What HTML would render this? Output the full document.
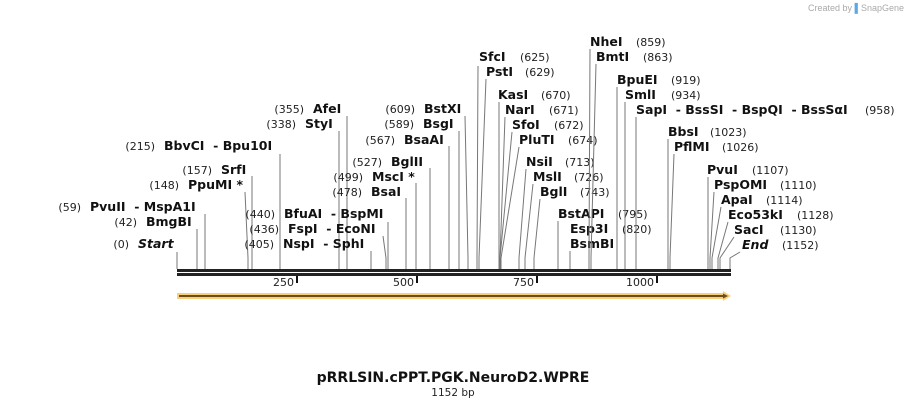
<!DOCTYPE html>
<html><head><meta charset="utf-8"><style>
html,body{margin:0;padding:0;background:#fff;width:908px;height:408px;overflow:hidden}
svg{display:block}
.n{font-family:"DejaVu Sans",Verdana,sans-serif;font-weight:bold;font-size:12.5px;fill:#111;white-space:pre}
.p{font-family:"DejaVu Sans",Verdana,sans-serif;font-size:11px;fill:#222}
line{stroke:#777;stroke-width:1}
</style></head><body>
<svg width="908" height="408" xmlns="http://www.w3.org/2000/svg" xml:space="preserve">
<text x="904" y="11" text-anchor="end" style="font-family:'Liberation Sans',sans-serif;font-size:9px;fill:#aaa">Created by <tspan fill="#5aa9e6">▌</tspan>SnapGene</text>
<g>
<line x1="177" y1="252" x2="177" y2="269"/><text class="p" x="129" y="248" text-anchor="end">(0)</text><text class="n" x="138" y="248" font-style="italic">Start</text>
<line x1="197" y1="229" x2="197" y2="269"/><text class="p" x="137" y="226" text-anchor="end">(42)</text><text class="n" x="146" y="226">BmgBI</text>
<line x1="205" y1="214" x2="205" y2="269"/><text class="p" x="81" y="211" text-anchor="end">(59)</text><text class="n" x="90" y="211">PvuII  - MspA1I</text>
<polyline points="245,192 248,258 248,269" fill="none" stroke="#777"/><text class="p" x="179" y="189" text-anchor="end">(148)</text><text class="n" x="188" y="189">PpuMI *</text>
<line x1="252" y1="176" x2="252" y2="269"/><text class="p" x="212" y="174" text-anchor="end">(157)</text><text class="n" x="221" y="174">SrfI</text>
<line x1="280" y1="154" x2="280" y2="269"/><text class="p" x="155" y="150" text-anchor="end">(215)</text><text class="n" x="164" y="150">BbvCI  - Bpu10I</text>
<line x1="339" y1="131" x2="339" y2="269"/><text class="p" x="296" y="128" text-anchor="end">(338)</text><text class="n" x="305" y="128">StyI</text>
<line x1="347" y1="116" x2="347" y2="269"/><text class="p" x="304" y="113" text-anchor="end">(355)</text><text class="n" x="313" y="113">AfeI</text>
<line x1="388" y1="222" x2="388" y2="269"/><text class="p" x="275" y="218" text-anchor="end">(440)</text><text class="n" x="284" y="218">BfuAI  - BspMI</text>
<polyline points="383,236 386,258 386,269" fill="none" stroke="#777"/><text class="p" x="279" y="233" text-anchor="end">(436)</text><text class="n" x="288" y="233">FspI  - EcoNI</text>
<line x1="371" y1="251" x2="371" y2="269"/><text class="p" x="274" y="248" text-anchor="end">(405)</text><text class="n" x="283" y="248">NspI  - SphI</text>
<line x1="406" y1="198" x2="406" y2="269"/><text class="p" x="362" y="196" text-anchor="end">(478)</text><text class="n" x="371" y="196">BsaI</text>
<line x1="416" y1="183" x2="416" y2="269"/><text class="p" x="363" y="181" text-anchor="end">(499)</text><text class="n" x="372" y="181">MscI *</text>
<line x1="430" y1="168" x2="430" y2="269"/><text class="p" x="382" y="166" text-anchor="end">(527)</text><text class="n" x="391" y="166">BglII</text>
<line x1="449" y1="146" x2="449" y2="269"/><text class="p" x="395" y="144" text-anchor="end">(567)</text><text class="n" x="404" y="144">BsaAI</text>
<polyline points="459,131 459,258 459,269" fill="none" stroke="#777"/><text class="p" x="414" y="128" text-anchor="end">(589)</text><text class="n" x="423" y="128">BsgI</text>
<polyline points="465,116 468,258 468,269" fill="none" stroke="#777"/><text class="p" x="415" y="113" text-anchor="end">(609)</text><text class="n" x="424" y="113">BstXI</text>
<polyline points="478,66 477,258 477,269" fill="none" stroke="#777"/><text class="n" x="479" y="61">SfcI</text><text class="p" x="520" y="61">(625)</text>
<polyline points="486,79 479,258 479,269" fill="none" stroke="#777"/><text class="n" x="486" y="76">PstI</text><text class="p" x="525" y="76">(629)</text>
<line x1="499" y1="102" x2="499" y2="269"/><text class="n" x="498" y="99">KasI</text><text class="p" x="541" y="99">(670)</text>
<polyline points="505,117 500,258 500,269" fill="none" stroke="#777"/><text class="n" x="505" y="114">NarI</text><text class="p" x="549" y="114">(671)</text>
<polyline points="512,132 500,258 500,269" fill="none" stroke="#777"/><text class="n" x="512" y="129">SfoI</text><text class="p" x="554" y="129">(672)</text>
<polyline points="519,147 501,258 501,269" fill="none" stroke="#777"/><text class="n" x="519" y="144">PluTI</text><text class="p" x="568" y="144">(674)</text>
<polyline points="526,169 519,258 519,269" fill="none" stroke="#777"/><text class="n" x="526" y="166">NsiI</text><text class="p" x="565" y="166">(713)</text>
<polyline points="533,184 525,258 525,269" fill="none" stroke="#777"/><text class="n" x="533" y="181">MslI</text><text class="p" x="574" y="181">(726)</text>
<polyline points="540,199 534,258 534,269" fill="none" stroke="#777"/><text class="n" x="540" y="196">BglI</text><text class="p" x="580" y="196">(743)</text>
<line x1="558" y1="221" x2="558" y2="269"/><text class="n" x="558" y="218">BstAPI</text><text class="p" x="618" y="218">(795)</text>
<line x1="570" y1="251" x2="570" y2="269"/><text class="n" x="570" y="233">Esp3I</text><text class="p" x="622" y="233">(820)</text><text class="n" x="570" y="248">BsmBI</text>
<polyline points="590,49 589,258 589,269" fill="none" stroke="#777"/><text class="n" x="590" y="46">NheI</text><text class="p" x="636" y="46">(859)</text>
<polyline points="596,64 591,258 591,269" fill="none" stroke="#777"/><text class="n" x="596" y="61">BmtI</text><text class="p" x="643" y="61">(863)</text>
<line x1="617" y1="87" x2="617" y2="269"/><text class="n" x="617" y="84">BpuEI</text><text class="p" x="671" y="84">(919)</text>
<line x1="625" y1="102" x2="625" y2="269"/><text class="n" x="625" y="99">SmlI</text><text class="p" x="671" y="99">(934)</text>
<line x1="636" y1="117" x2="636" y2="269"/><text class="n" x="636" y="114">SapI  - BssSI  - BspQI  - BssSαI</text><text class="p" x="865" y="114">(958)</text>
<line x1="668" y1="139" x2="668" y2="269"/><text class="n" x="668" y="136">BbsI</text><text class="p" x="710" y="136">(1023)</text>
<polyline points="674,154 670,258 670,269" fill="none" stroke="#777"/><text class="n" x="674" y="151">PflMI</text><text class="p" x="722" y="151">(1026)</text>
<line x1="708" y1="177" x2="708" y2="269"/><text class="n" x="707" y="174">PvuI</text><text class="p" x="752" y="174">(1107)</text>
<polyline points="714,192 710,258 710,269" fill="none" stroke="#777"/><text class="n" x="714" y="189">PspOMI</text><text class="p" x="780" y="189">(1110)</text>
<polyline points="721,207 712,258 712,269" fill="none" stroke="#777"/><text class="n" x="721" y="204">ApaI</text><text class="p" x="766" y="204">(1114)</text>
<polyline points="728,222 718,258 718,269" fill="none" stroke="#777"/><text class="n" x="728" y="219">Eco53kI</text><text class="p" x="797" y="219">(1128)</text>
<polyline points="734,237 720,258 720,269" fill="none" stroke="#777"/><text class="n" x="734" y="234">SacI</text><text class="p" x="780" y="234">(1130)</text>
<polyline points="740,252 730,258 730,269" fill="none" stroke="#777"/><text class="n" x="742" y="249" font-style="italic">End</text><text class="p" x="782" y="249">(1152)</text>
</g>
<rect x="177" y="269" width="554" height="3" fill="#222"/>
<rect x="177" y="273" width="554" height="3" fill="#222"/>
<rect x="296" y="276" width="2" height="7" fill="#111"/><text class="p" x="294" y="286" text-anchor="end">250</text>
<rect x="416" y="276" width="2" height="7" fill="#111"/><text class="p" x="414" y="286" text-anchor="end">500</text>
<rect x="536" y="276" width="2" height="7" fill="#111"/><text class="p" x="534" y="286" text-anchor="end">750</text>
<rect x="656" y="276" width="2" height="7" fill="#111"/><text class="p" x="654" y="286" text-anchor="end">1000</text>
<polygon points="177,293 723,293 723,291 731,296 723,301 723,299 177,299" fill="#f8cf7a"/>
<polygon points="179,295 723,295 723,293.5 728,296 723,298.5 723,297 179,297" fill="#6b4e1a"/>
<text x="453" y="382" text-anchor="middle" style="font-family:'DejaVu Sans',Verdana,sans-serif;font-weight:bold;font-size:14px;fill:#111">pRRLSIN.cPPT.PGK.NeuroD2.WPRE</text>
<text x="453" y="396" text-anchor="middle" class="p" style="font-size:10.5px">1152 bp</text>
</svg>
</body></html>
